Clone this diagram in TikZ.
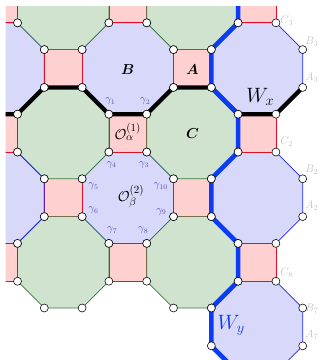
\documentclass[tikz,border=0pt]{standalone}
\usepackage{bm}
\usepackage{tikz}
\usetikzlibrary{calc}
\definecolor{octblue}{HTML}{D8D8FA}
\definecolor{octgreen}{HTML}{CFE3CF}
\definecolor{sqpink}{HTML}{FFD0D0}
\definecolor{edgered}{HTML}{E0102A}
\definecolor{edgegreen}{HTML}{3C7A3C}
\definecolor{edgeblue}{HTML}{1E28F0}
\definecolor{gammablue}{HTML}{5050B4}
\definecolor{cornergray}{HTML}{C4C4C4}
\definecolor{logicblue}{HTML}{0A3CF5}
\newcommand{\octR}{0.7654}
\newcommand{\sqH}{0.2929}
\tikzset{
  blueface/.style={fill=octblue, draw=edgeblue, line width=0.7pt},
  greenface/.style={fill=octgreen, draw=edgegreen, line width=0.7pt},
  redface/.style={fill=sqpink, draw=edgered, line width=0.7pt},
  qubit/.style={circle, draw=black, fill=white, line width=0.55pt,
    inner sep=0pt, minimum size=8pt},
  xstring/.style={line width=4.2pt, black},
  zstring/.style={line width=4.6pt, logicblue},
  facelabel/.style={font=\fontsize{15}{17}\selectfont, inner sep=0pt},
  bigLabel/.style={font=\fontsize{21}{24}\selectfont, inner sep=0pt},
  gammalabel/.style={font=\fontsize{10.5}{12}\selectfont, text=gammablue, inner sep=0pt},
  cornerlabel/.style={font=\fontsize{11}{12}\selectfont, text=cornergray, inner sep=0pt},
}

\begin{document}
\begin{tikzpicture}[x=64.6pt, y=-64.6pt]

  \useasboundingbox (0.0217,-0.0604) rectangle (4.975,5.512);

  \begin{scope}
    \clip (0.107,0.035) rectangle (4.975,5.512);

    \foreach \i/\j in {0/1,2/1,4/1,0/3,2/3,4/3,4/5}
      \draw[blueface, shift={(\i,\j)}] (22.5:\octR)
        \foreach \a in {67.5,112.5,...,337.5} {-- (\a:\octR)} -- cycle;
    \foreach \i/\j in {2/0,4/0,1/1,3/1,2/2,4/2,1/3,3/3,2/4,4/4}
      \draw[redface] (\i-\sqH,\j-\sqH) rectangle (\i+\sqH,\j+\sqH);
    \foreach \i/\j in {1/0,3/0,1/2,3/2,1/4,3/4}
      \draw[greenface, shift={(\i,\j)}] (22.5:\octR)
        \foreach \a in {67.5,112.5,...,337.5} {-- (\a:\octR)} -- cycle;
    \foreach \j in {0,2,4}
      \draw[redface] (-\sqH,\j-\sqH) rectangle (\sqH,\j+\sqH);
    \draw[edgeblue, line width=0.7pt] (.2929,2.2929) -- (.7071,2.7071)
      -- (.7071,3.2929) -- (.2929,3.7071);

    \draw[xstring] (-.2929,1.7071) -- (.2929,1.7071) -- (.7071,1.2929)
      -- (1.2929,1.2929) -- (1.7071,1.7071) -- (2.2929,1.7071)
      -- (2.7071,1.2929) -- (3.2929,1.2929) -- (3.7071,1.7071)
      -- (4.2929,1.7071) -- (4.7071,1.2929);
    \draw[zstring] (3.7071,-.4) -- (3.7071,.2929) -- (3.2929,.7071)
      -- (3.2929,1.2929) -- (3.7071,1.7071) -- (3.7071,2.2929)
      -- (3.2929,2.7071) -- (3.2929,3.2929) -- (3.7071,3.7071)
      -- (3.7071,4.2929) -- (3.2929,4.7071) -- (3.2929,5.2929)
      -- (3.7071,5.7071);

    \foreach \i/\j in {0/1,2/1,4/1,0/3,2/3,4/3,4/5,1/0,3/0,1/2,3/2,1/4,3/4}
      \foreach \a [count=\k] in {22.5,67.5,...,337.5}
        \node[qubit] (q\i\j\k) at ($(\i,\j)+(\a:\octR)$) {};
  \end{scope}

  \node[facelabel] (lblB) at (2,1.02) {$\bm{B}$};
  \node[facelabel] (lblA) at (3,1.02) {$\bm{A}$};
  \node[facelabel] (lblC) at (3,2.01) {$\bm{C}$};
  \node[facelabel] (lblOa) at (2,1.98) {$\mathcal{O}^{(1)}_{\alpha}$};
  \node[facelabel] (lblOb) at (2.05,2.98) {$\mathcal{O}^{(2)}_{\beta}$};
  \node[bigLabel] (lblWx) at (4.05,1.44) {$W_x$};
  \node[bigLabel, text=logicblue] (lblWy) at (3.6,4.97) {$W_y$};

  \node[gammalabel] (g1) at (1.73,1.51) {$\gamma_1$};
  \node[gammalabel] (g2) at (2.27,1.51) {$\gamma_2$};
  \node[gammalabel] (g3) at (2.25,2.49) {$\gamma_3$};
  \node[gammalabel] (g4) at (1.75,2.49) {$\gamma_4$};
  \node[gammalabel] (g5) at (1.47,2.82) {$\gamma_5$};
  \node[gammalabel] (g6) at (1.47,3.2) {$\gamma_6$};
  \node[gammalabel] (g7) at (1.76,3.51) {$\gamma_7$};
  \node[gammalabel] (g8) at (2.24,3.51) {$\gamma_8$};
  \node[gammalabel] (g9) at (2.52,3.22) {$\gamma_9$};
  \node[gammalabel] (g10) at (2.51,2.82) {$\gamma_{10}$};

  \node[cornerlabel] (c3) at (4.46,.26) {$C_3$};
  \node[cornerlabel] (b3) at (4.85,.59) {$B_3$};
  \node[cornerlabel] (a3) at (4.85,1.14) {$A_3$};
  \node[cornerlabel] (c2) at (4.46,2.13) {$C_2$};
  \node[cornerlabel] (b2) at (4.85,2.57) {$B_2$};
  \node[cornerlabel] (a2) at (4.85,3.12) {$A_2$};
  \node[cornerlabel] (c8) at (4.46,4.16) {$C_8$};
  \node[cornerlabel] (b7) at (4.85,4.72) {$B_7$};
  \node[cornerlabel] (a7) at (4.85,5.12) {$A_7$};

\end{tikzpicture}
\end{document}
